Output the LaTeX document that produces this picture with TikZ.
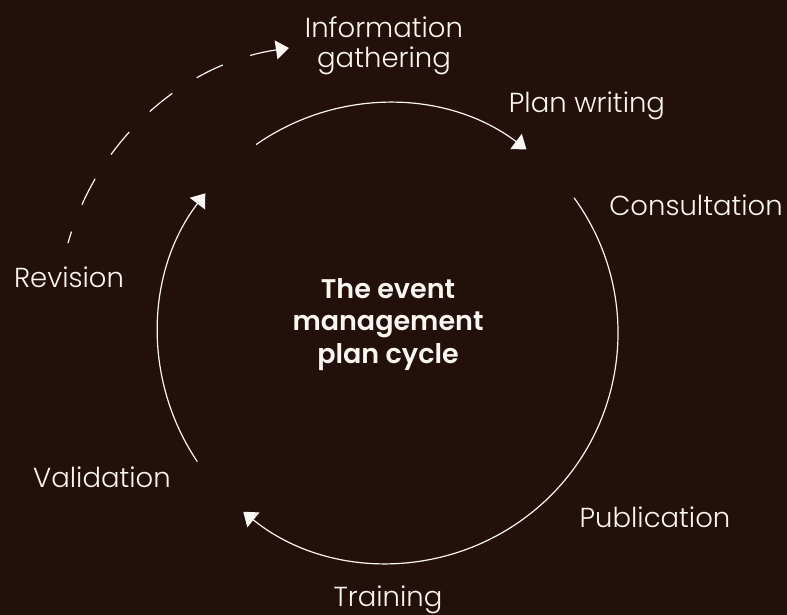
\documentclass[tikz,border=0pt]{standalone}
\usepackage{fontspec}
\setmainfont{Poppins}
\newfontfamily\lightfont{Poppins Light}
\newfontfamily\semifont{Poppins SemiBold}
\usetikzlibrary{arrows.meta}
\definecolor{bgbrown}{RGB}{35,16,10}
\definecolor{fg}{RGB}{250,246,242}
\begin{document}
\begin{tikzpicture}[x=1pt,y=1pt,
  lbl/.style={text=fg,font=\lightfont\fontsize{27.5}{30.5}\selectfont,align=center,inner sep=0pt,anchor=base},
  ttl/.style={text=fg,font=\semifont\fontsize{27}{32.5}\selectfont,align=center,inner sep=0pt,anchor=base},
  cyc/.style={draw=fg,line width=1.2pt,-{Triangle[length=13pt,width=19pt]}},
  dsh/.style={cyc,dash pattern=on 29pt off 29pt,dash phase=17pt}]
\fill[bgbrown] (0,0) rectangle (787,-615);
\useasboundingbox (0,0) rectangle (787,-615);
\coordinate (C) at (388,-333);
\coordinate (D) at (329,-316);
% labels (anchored at last baseline)
\node[lbl] (info) at (384,-68) {Information\\gathering};
\node[lbl] (plan) at (587,-113) {Plan writing};
\node[lbl] (cons) at (696,-215) {Consultation};
\node[lbl] (revi) at (69,-287) {Revision};
\node[lbl] (vali) at (102,-487) {Validation};
\node[lbl] (publ) at (655,-527) {Publication};
\node[lbl] (trai) at (388,-606) {Training};
\node[ttl] (title) at (388,-363) {The event\\management\\plan cycle};
% arc start points
\coordinate (s1) at ([shift={(125:230)}]C);
\coordinate (s2) at ([shift={(36:230)}]C);
\coordinate (s3) at ([shift={(214:230)}]C);
\coordinate (s4) at ([shift={(164.4:271)}]D);
% arcs
\draw[cyc] (s1) arc[start angle=125,end angle=53,radius=230];
\draw[cyc] (s2) arc[start angle=36,end angle=-129,radius=230];
\draw[cyc] (s3) arc[start angle=214,end angle=142.6,radius=230];
\draw[dsh] (s4) arc[start angle=164.4,end angle=98.5,radius=271];
\end{tikzpicture}
\end{document}
